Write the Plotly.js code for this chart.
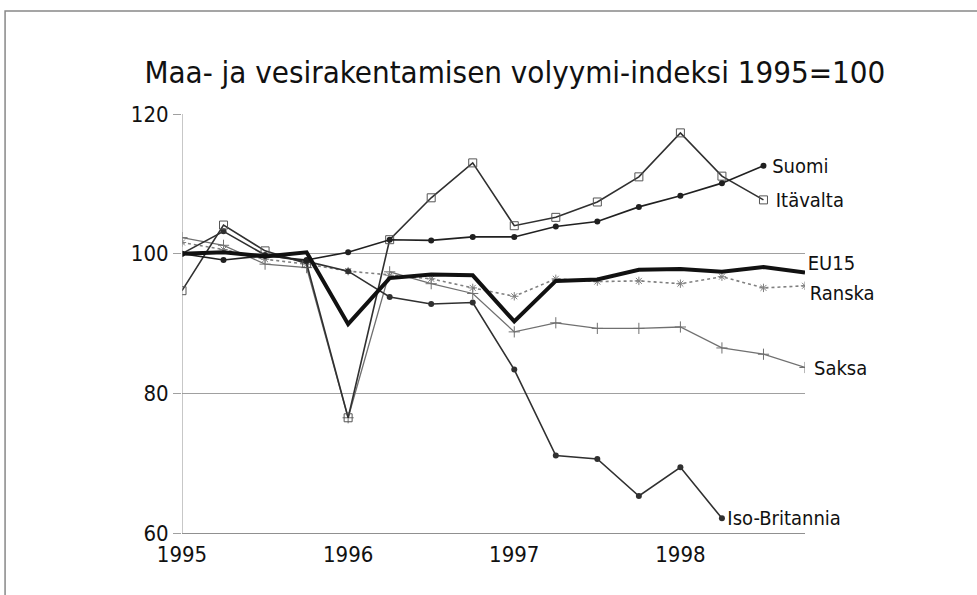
<!DOCTYPE html>
<html>
<head>
<meta charset="utf-8">
<script src="https://cdn.plot.ly/plotly-3.0.1.min.js"></script>
<style>
  body { margin: 0; background: #fff; }
  #myDiv { width: 977px; height: 595px; }
  #myDiv text { font-stretch: condensed !important; }
</style>
</head>
<body>
<div id="myDiv"></div>
<script>
// quarterly index, 1995 = 100
var quarters = [1995, 1995.25, 1995.5, 1995.75, 1996, 1996.25, 1996.5, 1996.75,
                1997, 1997.25, 1997.5, 1997.75, 1998, 1998.25, 1998.5, 1998.75];

var eu15 = [100, 100.2, 99.6, 100.2, 89.9, 96.5, 97.0, 96.9, 90.3, 96.1, 96.3, 97.7, 97.8, 97.4, 98.1, 97.3];
var suomi = [100, 99.1, 99.7, 99.1, 100.2, 102.0, 101.9, 102.4, 102.4, 103.9, 104.6, 106.7, 108.3, 110.1, 112.6];
var itavalta = [94.7, 104.1, 100.4, 98.6, 76.5, 102.0, 108.0, 113.0, 104.0, 105.2, 107.4, 111.0, 117.3, 111.1, 107.7];
var ranska = [101.6, 100.6, 99.2, 98.5, 97.5, 96.9, 96.4, 95.1, 93.9, 96.4, 96.0, 96.1, 95.7, 96.7, 95.1, 95.4];
var saksa = [102.3, 101.2, 98.5, 98.0, 76.5, 97.4, 95.7, 94.3, 88.8, 90.1, 89.3, 89.3, 89.5, 86.5, 85.6, 83.7];
var isobritannia = [100, 103.2, 99.8, 98.9, 97.5, 93.8, 92.8, 93.0, 83.4, 71.1, 70.6, 65.3, 69.4, 62.1];

var yTicks = [60, 80, 100, 120];
var xTicks = [1995, 1996, 1997, 1998];

var fontName = '"DejaVu Sans", sans-serif';

var data = [
  {
    x: quarters.slice(0, saksa.length), y: saksa, name: 'Saksa',
    mode: 'lines+markers', type: 'scatter',
    line: {color: '#707070', width: 1.3},
    marker: {symbol: 'cross-thin-open', size: 8, color: '#707070', line: {color: '#707070', width: 1}}
  },
  {
    x: quarters.slice(0, ranska.length), y: ranska, name: 'Ranska',
    mode: 'lines+markers', type: 'scatter',
    line: {color: '#808080', width: 1.6, dash: 'dot'},
    marker: {symbol: 'asterisk-open', size: 7, color: '#808080', line: {color: '#808080', width: 1}}
  },
  {
    x: quarters.slice(0, isobritannia.length), y: isobritannia, name: 'Iso-Britannia',
    mode: 'lines+markers', type: 'scatter',
    line: {color: '#303030', width: 1.6},
    marker: {symbol: 'circle', size: 6, color: '#303030'}
  },
  {
    x: quarters.slice(0, itavalta.length), y: itavalta, name: 'Itävalta',
    mode: 'lines+markers', type: 'scatter',
    line: {color: '#303030', width: 1.6},
    marker: {symbol: 'square-open', size: 8, color: '#555555', line: {color: '#555555', width: 1}}
  },
  {
    x: quarters.slice(0, suomi.length), y: suomi, name: 'Suomi',
    mode: 'lines+markers', type: 'scatter',
    line: {color: '#202020', width: 1.6},
    marker: {symbol: 'circle', size: 6, color: '#202020'}
  },
  {
    x: quarters.slice(0, eu15.length), y: eu15, name: 'EU15',
    mode: 'lines', type: 'scatter',
    line: {color: '#111111', width: 4}
  }
];

// end-of-line labels
var labelFont = {family: fontName, size: 20, color: '#111'};
var annotations = [
  {x: 1998.5, y: suomi[suomi.length - 1], text: 'Suomi', xshift: 4},
  {x: 1998.5, y: itavalta[itavalta.length - 1], text: 'Itävalta', xshift: 7},
  {x: 1998.75, y: eu15[eu15.length - 1] + 1.4, text: 'EU15', xshift: -2},
  {x: 1998.75, y: ranska[ranska.length - 1] - 1.1, text: 'Ranska', xshift: -1},
  {x: 1998.75, y: saksa[saksa.length - 1], text: 'Saksa', xshift: 4},
  {x: 1998.25, y: isobritannia[isobritannia.length - 1], text: 'Iso-Britannia', xshift: -3}
].map(function (a) {
  a.xref = 'x'; a.yref = 'y';
  a.xanchor = 'left'; a.yanchor = 'middle';
  a.showarrow = false; a.font = labelFont;
  return a;
});

var layout = {
  width: 977,
  height: 595,
  paper_bgcolor: '#ffffff',
  plot_bgcolor: '#ffffff',
  showlegend: false,
  margin: {l: 182, r: 172, t: 114, b: 62},
  font: {family: fontName, color: '#111'},
  title: {
    text: 'Maa- ja vesirakentamisen volyymi-indeksi 1995=100',
    font: {family: fontName, size: 31, color: '#111'},
    x: 0.527, xanchor: 'center',
    y: 0.878, yanchor: 'middle'
  },
  xaxis: {
    range: [1995, 1998.75],
    tickvals: xTicks,
    ticktext: xTicks.map(String),
    showgrid: false,
    zeroline: false,
    showline: true,
    linecolor: '#909090',
    linewidth: 1,
    ticks: '',
    ticklabelstandoff: 2,
    tickfont: {family: fontName, size: 22, color: '#111'}
  },
  yaxis: {
    range: [60, 120],
    tickvals: yTicks,
    showgrid: true,
    gridcolor: '#a0a0a0',
    gridwidth: 1,
    zeroline: false,
    showline: false,
    ticks: 'outside',
    ticklen: 8,
    tickcolor: '#a0a0a0',
    tickfont: {family: fontName, size: 22, color: '#111'}
  },
  annotations: annotations,
  shapes: [
    {
      type: 'line', xref: 'x', yref: 'paper', x0: 1995, x1: 1995, y0: 0, y1: 1,
      line: {color: '#909090', width: 1}
    },
    {
      type: 'rect', xref: 'paper', yref: 'paper',
      x0: -0.284, x1: 1.4, y0: -0.2, y1: 1.246,
      line: {color: '#888888', width: 1.5}
    }
  ]
};

Plotly.newPlot('myDiv', data, layout, {displayModeBar: false});
</script>
</body>
</html>
